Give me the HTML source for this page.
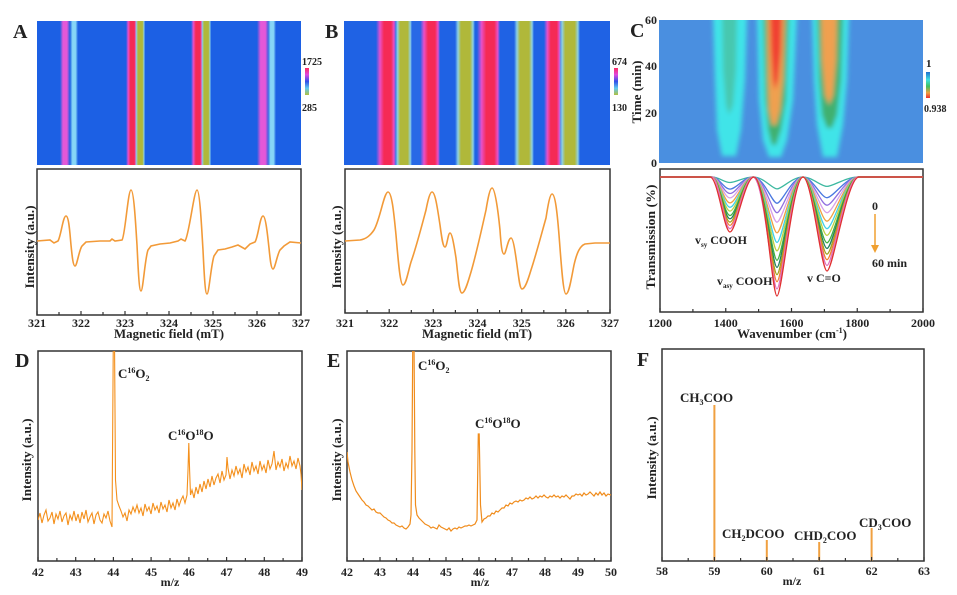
<!DOCTYPE html>
<html><head><meta charset="utf-8"><style>
html,body{margin:0;padding:0;background:#fff;}
svg{display:block;}
</style></head><body>
<svg width="957" height="595" viewBox="0 0 957 595" xmlns="http://www.w3.org/2000/svg" font-family="'Liberation Serif', serif" font-weight="bold" fill="#222">
<defs>
<linearGradient id="pk" x1="0" x2="1" y1="0" y2="0">
<stop offset="0" stop-color="#e458d8" stop-opacity="0"/><stop offset="0.3" stop-color="#e458d8"/><stop offset="0.7" stop-color="#e458d8"/><stop offset="1" stop-color="#e458d8" stop-opacity="0"/></linearGradient>
<linearGradient id="cy" x1="0" x2="1" y1="0" y2="0">
<stop offset="0" stop-color="#86d6f6" stop-opacity="0"/><stop offset="0.3" stop-color="#86d6f6"/><stop offset="0.7" stop-color="#86d6f6"/><stop offset="1" stop-color="#86d6f6" stop-opacity="0"/></linearGradient>
<linearGradient id="rd" x1="0" x2="1" y1="0" y2="0">
<stop offset="0" stop-color="#e050e0" stop-opacity="0"/><stop offset="0.2" stop-color="#e850c8"/><stop offset="0.4" stop-color="#f52a55"/><stop offset="0.75" stop-color="#f52a55"/><stop offset="0.9" stop-color="#e850c8"/><stop offset="1" stop-color="#e050e0" stop-opacity="0"/></linearGradient>
<linearGradient id="gr" x1="0" x2="1" y1="0" y2="0">
<stop offset="0" stop-color="#80d0f0" stop-opacity="0"/><stop offset="0.15" stop-color="#90d0e0"/><stop offset="0.3" stop-color="#b0b83a"/><stop offset="0.75" stop-color="#b0b83a"/><stop offset="0.9" stop-color="#90d0e0"/><stop offset="1" stop-color="#80d0f0" stop-opacity="0"/></linearGradient>
<linearGradient id="cbA" x1="0" x2="0" y1="0" y2="1">
<stop offset="0" stop-color="#ff2a60"/><stop offset="0.25" stop-color="#e048e0"/><stop offset="0.5" stop-color="#3050e8"/><stop offset="0.75" stop-color="#60c8f0"/><stop offset="1" stop-color="#b0c040"/></linearGradient>
<linearGradient id="cbC" x1="0" x2="0" y1="0" y2="1">
<stop offset="0" stop-color="#2070d0"/><stop offset="0.3" stop-color="#40e0e0"/><stop offset="0.55" stop-color="#40c060"/><stop offset="0.8" stop-color="#f0a040"/><stop offset="1" stop-color="#f03030"/></linearGradient>
<filter id="bl" x="-20%" y="-20%" width="140%" height="140%"><feGaussianBlur stdDeviation="2.4"/></filter>
<clipPath id="clC"><rect x="659" y="20" width="264" height="143"/></clipPath>
<clipPath id="clD"><rect x="38" y="351" width="264" height="210"/></clipPath>
<clipPath id="clE"><rect x="347" y="351" width="264" height="210"/></clipPath>
</defs>

<!-- Panel letters -->
<g font-size="20">
<text x="13" y="38">A</text>
<text x="325" y="38">B</text>
<text x="630" y="37">C</text>
<text x="15" y="367">D</text>
<text x="327" y="367">E</text>
<text x="637" y="366">F</text>
</g>

<!-- A heatmap -->
<rect x="37" y="21" width="264" height="144" fill="#1c60e4"/>
<rect x="60" y="21" width="10" height="144" fill="url(#pk)"/>
<rect x="70" y="21" width="8" height="144" fill="url(#cy)"/>
<rect x="126" y="21" width="11" height="144" fill="url(#rd)"/>
<rect x="135" y="21" width="10" height="144" fill="url(#gr)"/>
<rect x="191" y="21" width="12" height="144" fill="url(#rd)"/>
<rect x="201" y="21" width="10" height="144" fill="url(#gr)"/>
<rect x="257" y="21" width="12" height="144" fill="url(#pk)"/>
<rect x="268" y="21" width="8" height="144" fill="url(#cy)"/>
<rect x="305" y="68" width="4" height="27" fill="url(#cbA)"/>
<text x="302" y="65" font-size="10">1725</text>
<text x="302" y="111" font-size="10">285</text>

<!-- A spectrum -->
<rect x="37" y="169" width="264" height="146" fill="none" stroke="#333" stroke-width="1.5"/>
<path d="M37,241 L50,240 L54,243 L58,241 C61,236 63,216 66,216 C69,216 70,235 71,245 C72,255 73,266 75,266 C77,266 79,250 82,246 L86,242 L100,241 L110,241 L112,239 L115,241 L122,240 C125,237 128,190 131,190 C134,190 136,230 137,245 C138,265 139,291 141,291 C143,291 145,258 148,250 L151,246 L160,244 L170,243 L178,241 L181,239 L185,241 C189,236 194,190 197,190 C200,190 202,235 203,250 C204,270 205,294 207,294 C209,294 211,265 214,256 L218,250 L225,249 L232,247 L238,245 L245,249 L250,244 L255,242 C258,238 260,216 263,216 C266,216 268,240 269,248 C270,258 271,269 273,269 C275,269 277,255 280,250 L284,246 L290,242 L301,243" fill="none" stroke="#f29a38" stroke-width="1.6"/>
<path d="M37,315v-4M59,315v-3M81,315v-4M103,315v-3M125,315v-4M147,315v-3M169,315v-4M191,315v-3M213,315v-4M235,315v-3M257,315v-4M279,315v-3M301,315v-4" stroke="#333" stroke-width="1.2"/>
<g font-size="12" text-anchor="middle">
<text x="37" y="327">321</text><text x="81" y="327">322</text><text x="125" y="327">323</text><text x="169" y="327">324</text><text x="213" y="327">325</text><text x="257" y="327">326</text><text x="301" y="327">327</text>
</g>
<text x="169" y="338" font-size="13" text-anchor="middle" textLength="110" lengthAdjust="spacingAndGlyphs">Magnetic field (mT)</text>
<text transform="translate(34,247) rotate(-90)" font-size="13" text-anchor="middle" textLength="83" lengthAdjust="spacingAndGlyphs">Intensity (a.u.)</text>

<!-- B heatmap -->
<rect x="344" y="21" width="266" height="144" fill="#1f62e4"/>
<rect x="410" y="21" width="10" height="144" fill="#2e6ee8" opacity="0.6"/>
<rect x="376" y="21" width="20" height="144" fill="url(#rd)"/>
<rect x="395" y="21" width="17" height="144" fill="url(#gr)"/>
<rect x="420" y="21" width="20" height="144" fill="url(#rd)"/>
<rect x="455" y="21" width="20" height="144" fill="url(#gr)"/>
<rect x="477" y="21" width="23" height="144" fill="url(#rd)"/>
<rect x="514" y="21" width="20" height="144" fill="url(#gr)"/>
<rect x="544" y="21" width="17" height="144" fill="url(#rd)"/>
<rect x="559" y="21" width="21" height="144" fill="url(#gr)"/>
<rect x="614" y="68" width="4" height="27" fill="url(#cbA)"/>
<text x="612" y="65" font-size="10">674</text>
<text x="612" y="111" font-size="10">130</text>

<!-- B spectrum -->
<rect x="345" y="169" width="265" height="144" fill="none" stroke="#333" stroke-width="1.5"/>
<path d="M345,241 L360,240 C366,239 370,236 374,230 C380,220 384,192 388,192 C392,192 394,215 396,235 C398,258 400,285 403,285 C406,285 408,272 411,262 C416,248 422,225 426,210 C428,200 430,192 432,192 C435,192 437,205 440,225 C442,240 443,247 445,247 C447,247 448,233 450,233 C452,233 454,245 456,258 C458,275 459,293 462,293 C465,293 468,282 471,272 C476,255 482,228 486,210 C488,198 490,188 492,188 C495,188 498,210 500,230 C501,245 502,254 504,254 C506,254 508,238 511,238 C513,238 515,250 517,265 C519,280 520,289 522,289 C525,289 528,280 531,270 C536,255 542,232 546,218 C548,205 550,194 552,194 C555,194 557,210 559,235 C561,260 563,294 566,294 C569,294 571,280 574,265 C577,252 580,246 585,244 L595,243 L610,243" fill="none" stroke="#f29a38" stroke-width="1.6"/>
<path d="M345,313v-4M367.1,313v-3M389.2,313v-4M411.3,313v-3M433.3,313v-4M455.4,313v-3M477.5,313v-4M499.6,313v-3M521.7,313v-4M543.8,313v-3M565.8,313v-4M587.9,313v-3M610,313v-4" stroke="#333" stroke-width="1.2"/>
<g font-size="12" text-anchor="middle">
<text x="345" y="327">321</text><text x="389.2" y="327">322</text><text x="433.3" y="327">323</text><text x="477.5" y="327">324</text><text x="521.7" y="327">325</text><text x="565.8" y="327">326</text><text x="610" y="327">327</text>
</g>
<text x="477" y="338" font-size="13" text-anchor="middle" textLength="110" lengthAdjust="spacingAndGlyphs">Magnetic field (mT)</text>
<text transform="translate(341,247) rotate(-90)" font-size="13" text-anchor="middle" textLength="83" lengthAdjust="spacingAndGlyphs">Intensity (a.u.)</text>

<!-- C heatmap -->
<rect x="659" y="20" width="264" height="143" fill="#4a8fe0"/>
<g clip-path="url(#clC)" filter="url(#bl)">
<polygon points="713,14 747,14 745,80 741,130 736,156 722,156 717,130 715,80" fill="#40e4e8"/>
<polygon points="722,14 737,14 736,70 733,105 729,115 726,105 723,70" fill="#48c0a0" opacity="0.8"/>
<polygon points="757,14 797,14 793,100 787,140 781,157 769,157 763,140 759,100" fill="#40e4e8"/>
<polygon points="763,14 789,14 786,100 781,130 776,145 772,145 768,130 765,100" fill="#40b070"/>
<polygon points="767,14 785,14 783,80 780,110 776,125 772,125 769,110 768,80" fill="#f0a050"/>
<polygon points="770,14 782,14 781,50 778,80 775,90 773,80 771,50" fill="#f04030"/>
<polygon points="812,14 849,14 847,80 843,125 837,157 823,157 817,125 814,80" fill="#40e4e8"/>
<polygon points="817,14 843,14 841,80 837,115 832,128 827,128 822,115 819,80" fill="#40b070"/>
<polygon points="821,14 837,14 836,60 833,95 829,105 825,95 822,60" fill="#f0a050"/>
</g>
<rect x="926" y="72" width="4" height="26" fill="url(#cbC)"/>
<text x="926" y="67" font-size="11">1</text>
<text x="924" y="112" font-size="10">0.938</text>
<g font-size="12" text-anchor="end">
<text x="657" y="24">60</text><text x="657" y="70">40</text><text x="657" y="117">20</text><text x="657" y="167">0</text>
</g>
<text transform="translate(641,92) rotate(-90)" font-size="13" text-anchor="middle" textLength="63" lengthAdjust="spacingAndGlyphs">Time (min)</text>

<!-- C spectra -->
<rect x="660" y="169" width="263" height="143" fill="none" stroke="#333" stroke-width="1.5"/>
<g fill="none" stroke-width="1.3">
<path stroke="#3cb8a0" d="M660,177 L712,177 C719,177 724,182.5 730,182.5 C736,182.5 744,177 753,177 C764,177 772,188.9 777,188.9 C782,188.9 792,177 803,177 C812,177 821,186.4 827,186.4 C833,186.4 846,177 858,177 L923,177"/>
<path stroke="#4a78e0" d="M660,177 L712,177 C719,177 724,189.1 730,189.1 C736,189.1 744,177 753,177 C764,177 772,203.2 777,203.2 C782,203.2 792,177 803,177 C812,177 821,197.7 827,197.7 C833,197.7 846,177 858,177 L923,177"/>
<path stroke="#9070e0" d="M660,177 L712,177 C719,177 724,193.5 730,193.5 C736,193.5 744,177 753,177 C764,177 772,212.7 777,212.7 C782,212.7 792,177 803,177 C812,177 821,205.2 827,205.2 C833,205.2 846,177 858,177 L923,177"/>
<path stroke="#d8a0e8" d="M660,177 L712,177 C719,177 724,197.9 730,197.9 C736,197.9 744,177 753,177 C764,177 772,222.2 777,222.2 C782,222.2 792,177 803,177 C812,177 821,212.7 827,212.7 C833,212.7 846,177 858,177 L923,177"/>
<path stroke="#f0a040" d="M660,177 L712,177 C719,177 724,202.9 730,202.9 C736,202.9 744,177 753,177 C764,177 772,232.9 777,232.9 C782,232.9 792,177 803,177 C812,177 821,221.2 827,221.2 C833,221.2 846,177 858,177 L923,177"/>
<path stroke="#40d0e8" d="M660,177 L712,177 C719,177 724,207.3 730,207.3 C736,207.3 744,177 753,177 C764,177 772,242.5 777,242.5 C782,242.5 792,177 803,177 C812,177 821,228.7 827,228.7 C833,228.7 846,177 858,177 L923,177"/>
<path stroke="#c0d040" d="M660,177 L712,177 C719,177 724,211.1 730,211.1 C736,211.1 744,177 753,177 C764,177 772,250.8 777,250.8 C782,250.8 792,177 803,177 C812,177 821,235.3 827,235.3 C833,235.3 846,177 858,177 L923,177"/>
<path stroke="#40b040" d="M660,177 L712,177 C719,177 724,215.5 730,215.5 C736,215.5 744,177 753,177 C764,177 772,260.3 777,260.3 C782,260.3 792,177 803,177 C812,177 821,242.8 827,242.8 C833,242.8 846,177 858,177 L923,177"/>
<path stroke="#208060" d="M660,177 L712,177 C719,177 724,218.8 730,218.8 C736,218.8 744,177 753,177 C764,177 772,267.4 777,267.4 C782,267.4 792,177 803,177 C812,177 821,248.4 827,248.4 C833,248.4 846,177 858,177 L923,177"/>
<path stroke="#a0a020" d="M660,177 L712,177 C719,177 724,222.1 730,222.1 C736,222.1 744,177 753,177 C764,177 772,274.6 777,274.6 C782,274.6 792,177 803,177 C812,177 821,254.1 827,254.1 C833,254.1 846,177 858,177 L923,177"/>
<path stroke="#f08030" d="M660,177 L712,177 C719,177 724,225.4 730,225.4 C736,225.4 744,177 753,177 C764,177 772,281.7 777,281.7 C782,281.7 792,177 803,177 C812,177 821,259.7 827,259.7 C833,259.7 846,177 858,177 L923,177"/>
<path stroke="#e070c0" d="M660,177 L712,177 C719,177 724,228.7 730,228.7 C736,228.7 744,177 753,177 C764,177 772,288.9 777,288.9 C782,288.9 792,177 803,177 C812,177 821,265.4 827,265.4 C833,265.4 846,177 858,177 L923,177"/>
<path stroke="#e03030" d="M660,177 L710,177 C718,177 724,232 730,232 C736,232 745,177 754,177 C765,177 772,296 777,296 C782,296 793,177 803,177 C812,177 821,271 827,271 C833,271 847,177 859,177 L923,177"/>
</g>
<path d="M660,312v-4M692.9,312v-3M725.75,312v-4M758.6,312v-3M791.5,312v-4M824.4,312v-3M857.25,312v-4M890.1,312v-3M923,312v-4" stroke="#333" stroke-width="1.2"/>
<g font-size="12" text-anchor="middle">
<text x="660" y="327">1200</text><text x="725.75" y="327">1400</text><text x="791.5" y="327">1600</text><text x="857.25" y="327">1800</text><text x="923" y="327">2000</text>
</g>
<text x="737" y="338" font-size="13" textLength="110" lengthAdjust="spacingAndGlyphs">Wavenumber (cm<tspan font-size="8" dy="-5">-1</tspan><tspan dy="5">)</tspan></text>
<text transform="translate(655,237) rotate(-90)" font-size="13" text-anchor="middle" textLength="105" lengthAdjust="spacingAndGlyphs">Transmission (%)</text>
<g font-size="12">
<text x="695" y="244">v<tspan font-size="7" dy="3">sy</tspan><tspan dy="-3"> COOH</tspan></text>
<text x="717" y="285">v<tspan font-size="7" dy="3">asy</tspan><tspan dy="-3"> COOH</tspan></text>
<text x="807" y="282">v C=O</text>
<text x="875" y="210" text-anchor="middle">0</text>
<text x="872" y="267">60 min</text>
</g>
<line x1="875" y1="214" x2="875" y2="246" stroke="#f0a030" stroke-width="1.5"/>
<polygon points="871,245 879,245 875,253" fill="#f0a030"/>

<!-- D -->
<rect x="38" y="351" width="264" height="210" fill="none" stroke="#333" stroke-width="1.5"/>
<polyline clip-path="url(#clD)" fill="none" stroke="#f4901c" stroke-width="1.1" points="38,520 40,513 42,523 44,515 46,510 48,521 50,518 52,512 54,524 56,514 58,519 60,511 62,522 64,516 66,513 68,525 70,515 72,520 74,511 76,521 78,514 80,523 82,512 84,519 86,510 88,522 90,517 92,513 94,524 96,515 98,512 100,520 102,523 104,514 106,518 108,511 110,521 111,524 112,527 113.3,340 114.5,340 115.5,480 117,500 119,506 121,511 123,517 125,513 127,521 129,510 131,514 133,507 135,512 137,505 139,513 141,508 143,516 145,504 147,511 149,507 151,514 153,503 155,510 157,506 159,513 161,502 163,509 165,505 167,512 169,500 171,508 173,503 175,510 177,499 179,506 181,500 183,496 185,503 187,495 188,470 188.8,443 189.6,470 190.5,495 192,490 194,498 196,487 198,494 200,484 202,492 204,481 206,489 208,479 210,487 212,476 214,485 216,478 218,474 220,483 222,471 224,480 226,475 227,457 228,468 230,479 232,470 234,476 236,466 238,474 240,469 242,478 244,464 246,472 248,467 250,475 252,462 254,471 256,466 258,474 260,461 262,470 264,465 266,473 268,460 270,469 272,464 274,451 276,470 278,462 280,467 282,459 284,471 286,463 288,468 290,456 292,466 294,461 296,469 298,458 300,466 301,474 302,490"/>
<path d="M38,561v-4M56.9,561v-3M75.7,561v-4M94.6,561v-3M113.4,561v-4M132.3,561v-3M151.1,561v-4M170,561v-3M188.9,561v-4M207.7,561v-3M226.6,561v-4M245.4,561v-3M264.3,561v-4M283.1,561v-3M302,561v-4" stroke="#333" stroke-width="1.2"/>
<g font-size="12" text-anchor="middle">
<text x="38" y="576">42</text><text x="75.7" y="576">43</text><text x="113.4" y="576">44</text><text x="151.1" y="576">45</text><text x="188.9" y="576">46</text><text x="226.6" y="576">47</text><text x="264.3" y="576">48</text><text x="302" y="576">49</text>
<text x="170" y="586">m/z</text>
</g>
<text transform="translate(31,460) rotate(-90)" font-size="13" text-anchor="middle" textLength="83" lengthAdjust="spacingAndGlyphs">Intensity (a.u.)</text>
<g font-size="13">
<text x="118" y="378">C<tspan font-size="8" dy="-5">16</tspan><tspan dy="5">O</tspan><tspan font-size="8" dy="3">2</tspan></text>
<text x="168" y="440">C<tspan font-size="8" dy="-5">16</tspan><tspan dy="5">O</tspan><tspan font-size="8" dy="-5">18</tspan><tspan dy="5">O</tspan></text>
</g>

<!-- E -->
<rect x="347" y="351" width="264" height="210" fill="none" stroke="#333" stroke-width="1.5"/>
<polyline clip-path="url(#clE)" fill="none" stroke="#f08c1c" stroke-width="1.2" points="347,452 348,462 350,472 352,480 354,486 356,491 358,494 360,497 362,500 364,502 366,505 368,506 370,508 372,510 374,509 376,512 378,513 380,513 382,515 384,517 386,518 388,520 390,521 392,523 394,523 396,525 398,526 400,527 402,526 404,528 406,529 408,527 410,524 411,515 412,450 412.8,340 414,340 414.8,450 415.5,505 417,515 419,518 421,520 423,522 425,524 427,525 429,526 431,528 433,527 435,528 437,529 439,525 441,527 443,528 445,529 447,530 449,528 451,531 453,529 455,528 457,529 459,527 461,528 463,527 465,526 467,526 469,525 471,526 473,525 475,524 477,520 478.3,434 479.2,434 480.5,505 482,522 484,519 486,518 488,516 490,516 492,513 494,514 496,511 498,512 500,510 502,508 504,508 506,505 508,506 510,503 512,504 514,502 516,501 518,502 520,500 522,501 524,500 526,498 528,499 530,497 532,499 534,498 536,496 538,498 540,496 542,497 544,495 546,497 548,498 550,496 552,497 554,495 556,497 558,496 560,498 562,496 564,497 566,495 568,497 570,499 572,496 574,496 576,494 578,495 580,494 582,496 584,493 586,495 588,494 590,492 592,494 594,496 596,493 598,495 600,492 602,495 604,493 606,496 608,494 611,495"/>
<path d="M347,561v-4M363.5,561v-3M380,561v-4M396.5,561v-3M413,561v-4M429.5,561v-3M446,561v-4M462.5,561v-3M479,561v-4M495.5,561v-3M512,561v-4M528.5,561v-3M545,561v-4M561.5,561v-3M578,561v-4M594.5,561v-3M611,561v-4" stroke="#333" stroke-width="1.2"/>
<g font-size="12" text-anchor="middle">
<text x="347" y="576">42</text><text x="380" y="576">43</text><text x="413" y="576">44</text><text x="446" y="576">45</text><text x="479" y="576">46</text><text x="512" y="576">47</text><text x="545" y="576">48</text><text x="578" y="576">49</text><text x="611" y="576">50</text>
<text x="480" y="586">m/z</text>
</g>
<text transform="translate(341,460) rotate(-90)" font-size="13" text-anchor="middle" textLength="83" lengthAdjust="spacingAndGlyphs">Intensity (a.u.)</text>
<g font-size="13">
<text x="418" y="370">C<tspan font-size="8" dy="-5">16</tspan><tspan dy="5">O</tspan><tspan font-size="8" dy="3">2</tspan></text>
<text x="475" y="428">C<tspan font-size="8" dy="-5">16</tspan><tspan dy="5">O</tspan><tspan font-size="8" dy="-5">18</tspan><tspan dy="5">O</tspan></text>
</g>

<!-- F -->
<rect x="662" y="349" width="262" height="212" fill="none" stroke="#333" stroke-width="1.5"/>
<g stroke="#f0a040" stroke-width="2">
<line x1="714.4" y1="405" x2="714.4" y2="561"/>
<line x1="766.8" y1="540" x2="766.8" y2="561"/>
<line x1="819.2" y1="542" x2="819.2" y2="561"/>
<line x1="871.6" y1="528" x2="871.6" y2="561"/>
</g>
<path d="M662,561v-4M688.2,561v-3M714.4,561v-4M740.6,561v-3M766.8,561v-4M793,561v-3M819.2,561v-4M845.4,561v-3M871.6,561v-4M897.8,561v-3M924,561v-4" stroke="#333" stroke-width="1.2"/>
<g font-size="12" text-anchor="middle">
<text x="662" y="575">58</text><text x="714.4" y="575">59</text><text x="766.8" y="575">60</text><text x="819.2" y="575">61</text><text x="871.6" y="575">62</text><text x="924" y="575">63</text>
<text x="792" y="585">m/z</text>
</g>
<text transform="translate(656,458) rotate(-90)" font-size="13" text-anchor="middle" textLength="83" lengthAdjust="spacingAndGlyphs">Intensity (a.u.)</text>
<g font-size="13">
<text x="680" y="402">CH<tspan font-size="8" dy="3">3</tspan><tspan dy="-3">COO</tspan></text>
<text x="722" y="538">CH<tspan font-size="8" dy="3">2</tspan><tspan dy="-3">DCOO</tspan></text>
<text x="794" y="540">CHD<tspan font-size="8" dy="3">2</tspan><tspan dy="-3">COO</tspan></text>
<text x="859" y="527">CD<tspan font-size="8" dy="3">3</tspan><tspan dy="-3">COO</tspan></text>
</g>
</svg>
</body></html>
